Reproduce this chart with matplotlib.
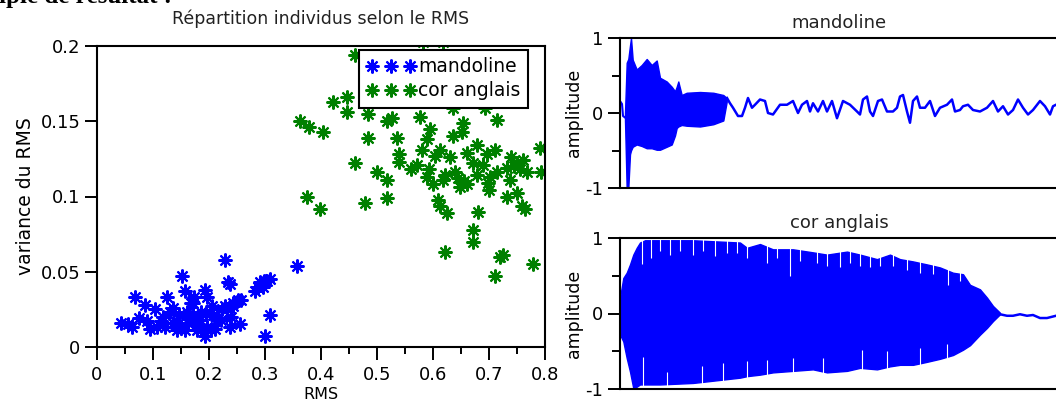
import matplotlib
matplotlib.use('Agg')
import matplotlib.pyplot as plt
from matplotlib.ticker import FixedLocator

plt.rcParams['font.family'] = ['DejaVu Sans']

# ---------------- scatter data ----------------
mando_rms = [0.043, 0.062, 0.068, 0.086, 0.089, 0.104, 0.107, 0.125, 0.130, 0.151,
             0.157, 0.143, 0.161, 0.172, 0.193, 0.193, 0.184, 0.205, 0.214, 0.229,
             0.234, 0.232, 0.243, 0.252, 0.255, 0.238, 0.282, 0.291, 0.309, 0.309,
             0.300, 0.357, 0.136, 0.146, 0.157, 0.163, 0.171, 0.179, 0.185, 0.197,
             0.203, 0.207, 0.221, 0.223, 0.229, 0.243, 0.121, 0.118, 0.174, 0.197,
             0.287, 0.298, 0.168, 0.055, 0.075, 0.095, 0.115, 0.135, 0.150, 0.165,
             0.180, 0.195, 0.210, 0.240, 0.258, 0.237, 0.304, 0.296]
mando_var = [0.016, 0.013, 0.033, 0.028, 0.017, 0.025, 0.013, 0.033, 0.023, 0.047,
             0.037, 0.011, 0.023, 0.029, 0.038, 0.007, 0.018, 0.027, 0.018, 0.058,
             0.043, 0.025, 0.029, 0.031, 0.015, 0.013, 0.037, 0.043, 0.045, 0.021,
             0.007, 0.054, 0.016, 0.021, 0.011, 0.016, 0.021, 0.011, 0.023, 0.013,
             0.011, 0.021, 0.018, 0.025, 0.027, 0.027, 0.013, 0.020, 0.033, 0.033,
             0.040, 0.044, 0.029, 0.015, 0.019, 0.012, 0.017, 0.026, 0.014, 0.019,
             0.015, 0.022, 0.012, 0.020, 0.031, 0.042, 0.044, 0.040]

cor_rms = [0.461, 0.421, 0.446, 0.446, 0.484, 0.363, 0.379, 0.404, 0.484, 0.461,
           0.500, 0.518, 0.375, 0.398, 0.479, 0.518, 0.518, 0.527, 0.536, 0.539,
           0.539, 0.577, 0.595, 0.589, 0.580, 0.571, 0.589, 0.600, 0.613, 0.630,
           0.636, 0.654, 0.652, 0.661, 0.679, 0.671, 0.696, 0.714, 0.711, 0.679,
           0.698, 0.714, 0.732, 0.750, 0.761, 0.755, 0.768, 0.791, 0.793, 0.639,
           0.621, 0.648, 0.661, 0.609, 0.613, 0.625, 0.680, 0.732, 0.750, 0.759,
           0.764, 0.671, 0.671, 0.621, 0.725, 0.720, 0.779, 0.711, 0.636, 0.693,
           0.618, 0.702, 0.582, 0.618, 0.737, 0.645, 0.690, 0.740, 0.603, 0.560,
           0.700, 0.745, 0.655, 0.592]
cor_var = [0.194, 0.163, 0.166, 0.156, 0.155, 0.150, 0.146, 0.143, 0.139, 0.122,
           0.116, 0.111, 0.100, 0.092, 0.096, 0.099, 0.150, 0.152, 0.139, 0.128,
           0.123, 0.153, 0.145, 0.138, 0.131, 0.121, 0.113, 0.108, 0.131, 0.126,
           0.140, 0.149, 0.143, 0.129, 0.134, 0.122, 0.128, 0.151, 0.131, 0.114,
           0.109, 0.116, 0.119, 0.122, 0.124, 0.118, 0.116, 0.132, 0.116, 0.116,
           0.114, 0.106, 0.108, 0.098, 0.094, 0.089, 0.090, 0.100, 0.102, 0.094,
           0.092, 0.078, 0.070, 0.063, 0.061, 0.060, 0.055, 0.047, 0.159, 0.159,
           0.111, 0.113, 0.2025, 0.2025, 0.111, 0.112, 0.121, 0.126, 0.127, 0.118,
           0.104, 0.120, 0.110, 0.118]

x_ticks = [0, 0.1, 0.2, 0.3, 0.4, 0.5, 0.6, 0.7, 0.8]
x_tick_labels = ['0', '0.1', '0.2', '0.3', '0.4', '0.5', '0.6', '0.7', '0.8']
x_minor = [0.05, 0.15, 0.25, 0.35, 0.45, 0.55, 0.65, 0.75]
y_ticks = [0, 0.05, 0.1, 0.15, 0.2]
y_tick_labels = ['0', '0.05', '0.1', '0.15', '0.2']

# ---------------- waveform data (time axis in arbitrary units) ----------------
mando_pre_t = [0, 2, 3, 5]
mando_pre_a = [0.16, 0.12, -0.04, -0.06]

mando_env_t = [5, 6.7, 8.3, 10, 11, 12.7, 16.7, 21.7, 26.7, 31.7, 36.7, 40,
               46.7, 51.7, 55, 56.7, 58.3, 61.7, 66.7, 80, 93.3, 103.3, 106.7]
mando_env_hi = [0.0, 0.67, 0.72, 0.9, 1.0, 0.71, 0.58, 0.64, 0.72, 0.64, 0.70, 0.47,
                0.42, 0.35, 0.29, 0.35, 0.42, 0.24, 0.27, 0.28, 0.27, 0.24, 0.20]
mando_env_lo = [-0.1, -1.02, -1.0, -0.55, -0.5, -0.45, -0.42, -0.44, -0.47, -0.47, -0.49,
                -0.49, -0.45, -0.42, -0.30, -0.20, -0.18, -0.16, -0.17, -0.18, -0.15,
                -0.10, 0.15]

mando_tail_t = [107, 110, 113, 118, 122, 125, 128, 132, 135, 140, 145, 148, 153, 160,
                167, 173, 178, 182, 187, 190, 193, 198, 203, 207, 212, 217, 223, 230,
                237, 240, 243, 247, 250, 253, 258, 262, 267, 273, 277, 280, 283, 287,
                290, 293, 297, 300, 305, 310, 315, 320, 327, 332, 335, 340, 343, 348,
                353, 360, 367, 373, 378, 383, 388, 393, 398, 403, 408, 413, 420, 425,
                430, 433, 436]
mando_tail_a = [0.20, 0.13, 0.07, -0.04, -0.04, 0.07, 0.20, 0.07, 0.11, 0.18, 0.16,
                0.00, -0.02, 0.11, 0.11, 0.16, 0.00, 0.11, 0.16, 0.02, 0.13, 0.02,
                0.16, 0.02, 0.16, -0.07, 0.16, 0.11, 0.02, -0.02, 0.18, 0.22, 0.02,
                -0.04, 0.16, 0.18, 0.02, 0.02, 0.07, 0.22, 0.24, 0.02, -0.13, 0.16,
                0.22, 0.07, 0.07, 0.16, -0.04, 0.07, 0.11, 0.18, 0.02, 0.04, 0.09,
                0.11, 0.04, 0.02, 0.07, 0.16, 0.02, 0.09, -0.02, 0.04, 0.18, 0.07,
                -0.02, 0.04, 0.16, 0.09, -0.02, 0.09, 0.11]

cor_env_t = [0, 3.3, 6.7, 10, 13.3, 16.7, 20, 25, 40, 73, 120, 127, 140, 153, 173,
             193, 207, 227, 240, 257, 270, 280, 293, 307, 320, 333, 343, 350, 360,
             367, 373, 380]
cor_env_hi = [0.21, 0.47, 0.54, 0.65, 0.78, 0.87, 0.94, 0.97, 0.97, 0.97, 0.94, 0.87,
              0.92, 0.85, 0.85, 0.81, 0.78, 0.82, 0.78, 0.72, 0.78, 0.72, 0.69, 0.65,
              0.61, 0.54, 0.52, 0.38, 0.32, 0.21, 0.10, 0.01]
cor_env_lo = [-0.28, -0.37, -0.59, -0.77, -0.99, -0.97, -0.94, -0.94, -0.94, -0.92,
              -0.85, -0.83, -0.81, -0.78, -0.76, -0.74, -0.78, -0.76, -0.72, -0.74,
              -0.70, -0.68, -0.68, -0.64, -0.60, -0.55, -0.48, -0.42, -0.28, -0.19,
              -0.10, -0.01]
cor_tail_t = [380, 387, 393, 400, 407, 413, 420, 427, 433, 436]
cor_tail_a = [-0.01, -0.03, -0.03, -0.01, -0.03, -0.02, -0.06, -0.06, -0.04, -0.03]

# troughs between oscillation peaks visible as white slits in the cor anglais trace
cor_gap_hi_t = [21.7, 30.7, 40, 50, 60, 73.3, 83.3, 95, 106.7, 116.7, 126.7, 146.7,
                156.7, 170, 180, 196.7, 206.7, 220, 230, 240, 250, 260, 273.3, 286.7,
                300, 313.3, 328.3, 340]
cor_gap_hi_a = [0.65, 0.74, 0.83, 0.78, 0.83, 0.78, 0.83, 0.76, 0.80, 0.80, 0.74, 0.67,
                0.74, 0.50, 0.69, 0.67, 0.63, 0.61, 0.67, 0.63, 0.61, 0.63, 0.63, 0.58,
                0.54, 0.52, 0.38, 0.43]
cor_gap_lo_t = [23.3, 46.7, 81.7, 103.3, 126.7, 146.7, 173.3, 203.3, 241.7, 266.7,
                300, 326.7]
cor_gap_lo_a = [-0.57, -0.77, -0.70, -0.65, -0.63, -0.61, -0.59, -0.59, -0.48, -0.50,
                -0.46, -0.41]

BLUE = '#0000ff'
GREEN = '#008000'
W, H = 1056, 401

fig = plt.figure(figsize=(W / 100, H / 100), dpi=100)


def ax_px(x0, y0, x1, y1):
    return fig.add_axes([x0 / W, 1 - y1 / H, (x1 - x0) / W, (y1 - y0) / H])


# ---------------- scatter ----------------
ax = ax_px(97, 46, 545, 347)
star = (8, 2, 0)
ax.plot(mando_rms, mando_var, linestyle='none', marker=star, markersize=10,
        markeredgewidth=1.5, color=BLUE, label='mandoline')
ax.plot(cor_rms, cor_var, linestyle='none', marker=star, markersize=10,
        markeredgewidth=1.5, color=GREEN, label='cor anglais')
ax.set_xlim(0, 0.8)
ax.set_ylim(0, 0.2)
ax.xaxis.set_major_locator(FixedLocator(x_ticks))
ax.xaxis.set_minor_locator(FixedLocator(x_minor))
ax.yaxis.set_major_locator(FixedLocator(y_ticks))
ax.set_xticklabels(x_tick_labels)
ax.set_yticklabels(y_tick_labels)
ax.tick_params(which='major', direction='out', length=9, width=1.4, labelsize=13,
               pad=3, colors='black')
ax.tick_params(axis='x', which='major', pad=5)
ax.tick_params(which='minor', direction='out', length=5, width=1.4)
for s in ax.spines.values():
    s.set_linewidth(1.5)
ax.set_title('Répartition individus selon le RMS', fontsize=12.5, color='#222222',
             pad=16)
ax.set_ylabel('variance du RMS', fontsize=13.5, labelpad=4)
ax.set_xlabel('RMS', fontsize=11.5, labelpad=2)
leg = ax.legend(loc='upper left', bbox_to_anchor=(359 / W, 1 - 50 / H),
                bbox_transform=fig.transFigure, numpoints=3, fontsize=13.5,
                frameon=True, fancybox=False, edgecolor='black', framealpha=1,
                handlelength=2.6, handletextpad=0.15, borderpad=0.4,
                labelspacing=0.25, borderaxespad=0)
leg.get_frame().set_linewidth(1.5)


# ---------------- waveforms ----------------
def wave_axes(y0, y1, title):
    a = ax_px(620, y0, 1058, y1)
    a.set_xlim(0, 438)
    a.set_ylim(-1, 1)
    a.yaxis.set_major_locator(FixedLocator([-1, 0, 1]))
    a.yaxis.set_minor_locator(FixedLocator([-0.5, 0.5]))
    a.set_yticklabels(['-1', '0', '1'])
    a.set_xticks([])
    a.tick_params(axis='y', which='major', direction='out', length=9, width=1.4,
                  labelsize=13, pad=3)
    a.tick_params(axis='y', which='minor', direction='out', length=6, width=1.4)
    for s in a.spines.values():
        s.set_linewidth(1.5)
    a.set_title(title, fontsize=13, color='#222222', pad=7)
    a.set_ylabel('amplitude', fontsize=12.5, labelpad=2)
    return a


a1 = wave_axes(38, 188, 'mandoline')
a1.plot(mando_pre_t, mando_pre_a, color=BLUE, lw=1.5)
a1.fill_between(mando_env_t, mando_env_lo, mando_env_hi, color=BLUE, lw=1)
a1.plot(mando_tail_t, mando_tail_a, color=BLUE, lw=1.8)

a2 = wave_axes(238, 389, 'cor anglais')
a2.fill_between(cor_env_t, cor_env_lo, cor_env_hi, color=BLUE, lw=1)
a2.plot(cor_tail_t, cor_tail_a, color=BLUE, lw=1.8)
a2.vlines(cor_gap_hi_t, 0.99, cor_gap_hi_a, color='white', lw=0.8, zorder=2)
a2.vlines(cor_gap_lo_t, -0.99, cor_gap_lo_a, color='white', lw=0.8, zorder=2)

# partially visible heading from the page above the figure
fig.text(172 / W, 1 - 3 / H, 'Exemple de résultat :', ha='right', va='baseline',
         fontsize=18, family='Liberation Serif', fontweight='bold')

fig.savefig('out.png', dpi=100)
